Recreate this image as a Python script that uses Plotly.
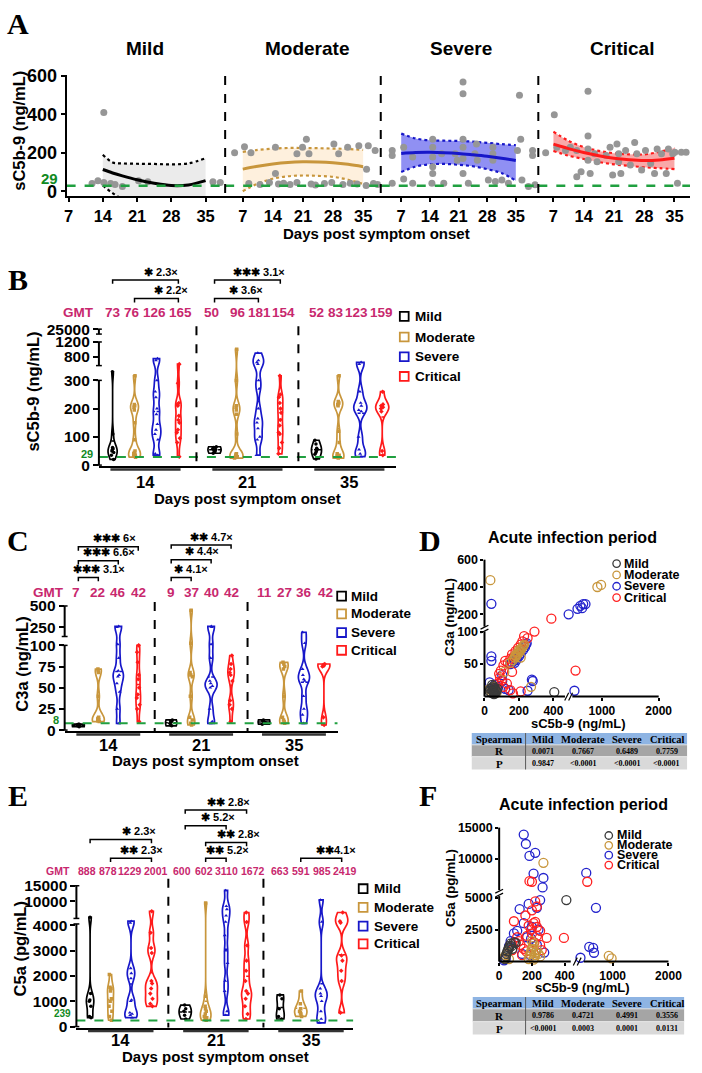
import numpy as np
import plotly.graph_objects as go

W, H = 702, 1073
SANS = "Liberation Sans, Arial, Helvetica, sans-serif"
SERIF = "Liberation Serif, Times New Roman, serif"

# ------------------------------------------------------------------ data
SERIES = ["Mild", "Moderate", "Severe", "Critical"]
DAY_LABELS = ["14", "21", "35"]
A_X_TICKS = [7, 14, 21, 28, 35]
A_THR, B_THR, C_THR, E_THR = 29, 29, 8, 239

A_mild_day = [11.8, 13.0, 14.2, 14.2, 15.6, 16.5, 18.0, 21.3, 23.2, 36.5, 38.0]
A_mild_val = [40, 55, 410, 45, 40, 35, 25, 55, 50, 50, 45]
A_mod_day = [5.1, 7.4, 8.9, 14.6, 14.6, 19.6, 20.9, 21.8, 22.4, 28.2, 29.3, 31.4, 34.0, 36.2, 35.8, 37.8,
             8.4, 11.0, 13.2, 15.3, 16.5, 18.0, 19.6, 22.9, 23.9, 26.0, 27.7, 30.3, 32.0, 33.6, 35.7, 37.4, 38.4]
A_mod_val = [200, 232, 200, 229, 93, 195, 229, 271, 195, 246, 195, 229, 237, 237, 115, 212,
             40, 35, 45, 38, 42, 35, 45, 38, 32, 40, 45, 35, 42, 38, 30, 40, 35]
A_sev_day = [4.8, 4.8, 4.8, 7.6, 7.6, 9.8, 9.8, 14.7, 14.7, 14.7, 14.7, 14.7, 14.5, 16.9, 17.4, 20.2, 20.7,
             22.1, 22.1, 22.1, 22.1, 22.1, 22.1, 23.4, 25.0, 25.4, 25.6, 28.3, 29.4, 29.4, 29.4, 30.0, 31.6,
             33.2, 35.4, 35.9, 36.2, 36.5, 38.1, 39.1, 39.1, 39.7]
A_sev_val = [42, 212, 186, 229, 64, 178, 42, 271, 229, 178, 127, 93, 42, 195, 42, 195, 161,
             568, 508, 271, 229, 170, 93, 42, 195, 246, 161, 59, 229, 195, 161, 51, 59,
             42, 212, 500, 271, 59, 25, 212, 186, 34]
A_crit_day = [5.2, 7.2, 7.8, 9.8, 10.9, 12.4, 12.4, 13.4, 15.0, 15.0, 15.0, 15.0, 15.5, 16.5, 17.1, 19.2,
              20.1, 20.7, 21.7, 22.1, 22.1, 22.6, 23.7, 24.8, 25.8, 26.3, 27.4, 28.3, 29.5, 30.4, 31.0,
              32.0, 33.1, 33.6, 34.6, 35.1, 35.7, 36.6, 37.7]
A_crit_val = [200, 398, 229, 212, 229, 212, 76, 102, 520, 288, 220, 161, 93, 195, 153, 186,
              229, 85, 246, 195, 153, 93, 212, 136, 254, 195, 110, 212, 144, 93, 220,
              195, 93, 220, 195, 203, 42, 203, 203]

A_mild_cday = [14, 16, 18, 21, 24.5, 28, 31.5, 35]
A_mild_fit = [113, 95, 80, 60, 42, 30, 33, 55]
A_mild_hi = [190, 150, 145, 143, 142, 140, 145, 172]
A_mild_lo = [30, -10, -40, -60, -70, -75, -75, -80]
A_cday = [7, 10.5, 14, 17.5, 21, 24.5, 28, 31.5, 35]
A_mod_fit = [115, 130, 142, 150, 153, 152, 148, 140, 128]
A_mod_hi = [205, 215, 222, 225, 225, 224, 222, 220, 215]
A_mod_lo = [0, 40, 65, 78, 82, 80, 75, 60, 38]
A_sev_fit = [197, 202, 203, 201, 197, 190, 182, 172, 160]
A_sev_hi = [300, 275, 265, 263, 262, 258, 252, 245, 240]
A_sev_lo = [100, 128, 140, 142, 138, 130, 115, 95, 55]
A_crit_fit = [245, 222, 202, 185, 172, 164, 160, 163, 172]
A_crit_hi = [310, 262, 230, 210, 198, 192, 192, 205, 225]
A_crit_lo = [210, 185, 168, 152, 140, 132, 125, 120, 115]

B_mild = [[20, 35, 45, 50, 55, 58, 62, 110, 450], [42, 48, 52, 55, 58, 62, 65], [22, 38, 45, 50, 55, 60, 75, 88]]
B_mod = [[28, 32, 36, 40, 45, 50, 90, 150, 195, 205, 210, 215, 380],
         [25, 28, 30, 32, 35, 38, 40, 110, 180, 195, 205, 210, 300, 1000],
         [25, 28, 32, 35, 40, 80, 120, 210, 215, 220, 225, 380]]
B_sev = [[35, 40, 90, 110, 125, 145, 180, 200, 240, 260, 300, 700, 750],
         [35, 90, 100, 130, 150, 165, 200, 270, 300, 600, 650, 700, 900],
         [30, 40, 55, 100, 190, 195, 210, 220, 260, 600, 650]]
B_crit = [[30, 80, 95, 115, 125, 150, 160, 175, 210, 215, 220, 290, 600],
          [40, 60, 80, 110, 115, 140, 160, 185, 200, 220, 240, 250, 380],
          [35, 50, 190, 200, 205, 210, 215, 260]]
B_gmt = [[73, 76, 126, 165], [50, 96, 181, 154], [52, 83, 123, 159]]
B_sig_pairs = [(0, 0, 3), (0, 1, 3), (1, 0, 3), (1, 0, 2)]
B_sig_text = ["✱ 2.3×", "✱ 2.2×", "✱✱✱ 3.1×", "✱ 3.6×"]
B_yticks = [0, 100, 200, 300, 800, 1200, 25000]

C_mild = [[4, 5, 5, 6, 6, 7, 7], [5, 6, 8, 10, 11, 12], [7, 8, 9, 10, 11, 12]]
C_mod = [[10, 11, 12, 13, 14, 15, 40, 68, 70, 72], [6, 8, 12, 15, 40, 63, 65, 68, 110, 450],
         [8, 10, 12, 15, 40, 72, 75, 78, 80]]
C_sev = [[8, 25, 45, 55, 63, 65, 70, 85, 105, 250, 260], [8, 10, 25, 50, 52, 55, 58, 85, 105, 250, 260],
         [8, 18, 25, 40, 58, 60, 65, 72, 110, 190]]
C_crit = [[10, 25, 30, 38, 42, 50, 60, 65, 80, 92, 100], [10, 25, 30, 35, 58, 65, 68, 72, 78, 88],
          [6, 15, 75, 76, 77, 78]]
C_gmt = [[7, 22, 46, 42], [9, 37, 40, 42], [11, 27, 36, 42]]
C_sig_pairs = [(0, 0, 3), (0, 0, 2), (0, 0, 1), (1, 0, 3), (1, 0, 2), (1, 0, 1)]
C_sig_text = ["✱✱✱ 6×", "✱✱✱ 6.6×", "✱✱✱ 3.1×", "✱✱ 4.7×", "✱ 4.4×", "✱ 4.1×"]
C_yticks = [0, 25, 50, 75, 100, 250, 500]

E_mild = [[350, 400, 800, 1000, 1050, 1300, 5000], [300, 450, 600, 700, 850], [300, 400, 700, 1100, 1250]]
E_mod = [[250, 400, 600, 800, 1000, 1100, 1400, 1500, 1550, 2050],
         [250, 300, 350, 400, 500, 600, 700, 800, 1200, 9500],
         [400, 500, 550, 600, 700, 900, 1400]]
E_sev = [[350, 450, 500, 550, 1000, 1050, 1900, 2100, 2300, 4300, 4500],
         [450, 600, 1400, 1800, 2500, 3000, 3600, 4400, 5500, 7500, 8500, 13500],
         [150, 300, 600, 1000, 1200, 1300, 1500, 4400, 10500]]
E_crit = [[800, 900, 1100, 1300, 1500, 1700, 1800, 2900, 3100, 3700, 6900],
          [300, 500, 800, 1100, 1300, 1400, 1800, 2200, 2600, 3200, 4400, 6500],
          [550, 1800, 2200, 2600, 2800, 4300, 4500, 6500]]
E_gmt = [[888, 878, 1229, 2001], [600, 602, 3110, 1672], [663, 591, 985, 2419]]
E_sig_pairs = [(0, 0, 3), (0, 1, 3), (1, 0, 3), (1, 0, 2), (1, 1, 3), (1, 1, 2), (2, 1, 3)]
E_sig_text = ["✱ 2.3×", "✱✱ 2.3×", "✱✱ 2.8×", "✱ 5.2×", "✱✱ 2.8×", "✱✱ 5.2×", "✱✱4.1×"]
E_yticks = [0, 1000, 2000, 3000, 4000, 10000, 15000]

D_mild_x = [30, 35, 40, 45, 48, 50, 52, 55, 58, 60, 62, 65, 70, 75, 45, 55, 405]
D_mild_y = [8, 12, 6, 10, 14, 9, 16, 7, 11, 13, 5, 10, 8, 12, 18, 4, 7]
D_mod_x = [34, 115, 270, 920, 985, 30, 40, 50, 60, 70, 150, 165, 175, 185, 190, 195, 200, 205, 210, 215,
           220, 225, 230, 180, 200, 210]
D_mod_y = [450, 38, 15, 400, 415, 12, 8, 15, 10, 6, 52, 56, 60, 62, 65, 66, 68, 70, 72, 74,
           76, 78, 80, 64, 72, 60]
D_sev_x = [40, 40, 40, 150, 160, 170, 175, 180, 185, 190, 200, 210, 225, 240, 245, 235,
           480, 570, 620, 670, 710, 650, 30, 103, 103, 120, 250, 275, 280, 516, 80, 60, 140]
D_sev_y = [277, 62, 55, 50, 53, 55, 52, 58, 56, 60, 62, 66, 72, 80, 82, 76,
           200, 240, 262, 275, 275, 245, 22, 24, 33, 12, 9, 26, 24, 9, 15, 18, 10]
D_crit_x = [388, 85, 90, 95, 110, 120, 135, 150, 160, 170, 180, 195, 210, 220, 230, 250, 290,
            160, 100, 130, 150, 210, 165, 535, 75, 110, 60]
D_crit_y = [168, 35, 30, 40, 48, 55, 52, 58, 65, 62, 70, 75, 80, 85, 93, 90, 100,
            38, 25, 20, 10, 8, 5, 40, 20, 15, 10]
D_R = ["0.0071", "0.7667", "0.6489", "0.7759"]
D_P = ["0.9847", "<0.0001", "<0.0001", "<0.0001"]

F_mild_x = [35, 40, 45, 50, 55, 60, 65, 70, 75, 80, 90, 100, 410]
F_mild_y = [200, 400, 600, 800, 950, 1100, 1250, 1400, 1200, 1000, 1500, 1450, 4800]
F_mod_x = [270, 930, 980, 30, 40, 50, 60, 180, 185, 190, 195, 200, 205, 210, 215, 220, 225, 230, 240, 250, 200, 210]
F_mod_y = [9400, 450, 250, 300, 500, 700, 200, 200, 400, 600, 800, 1000, 1200, 1400, 300, 500, 700, 900, 600,
           400, 1600, 150]
F_sev_x = [150, 163, 185, 220, 210, 270, 265, 250, 230, 180, 125, 526, 700, 580, 650, 665, 480, 150, 200, 240,
           110, 90, 170, 195, 70, 60, 40, 30, 140, 190, 275, 230]
F_sev_y = [13900, 12400, 10500, 11000, 7700, 7000, 5500, 4800, 4200, 4500, 4100, 7800, 4200, 1150, 1070, 690,
           300, 3000, 2700, 2500, 2400, 2200, 1900, 1800, 1600, 1200, 200, 100, 600, 500, 700, 1300]
F_crit_x = [185, 200, 544, 90, 160, 200, 220, 230, 290, 395, 210, 220, 180, 195, 230, 250, 200, 170, 230, 110,
            100, 130, 150, 165, 140, 250, 260, 215, 80, 120]
F_crit_y = [6500, 6400, 6400, 3150, 3600, 4000, 4700, 4300, 1850, 1850, 3000, 3100, 2800, 2500, 2700, 2400,
            2200, 2000, 2000, 1900, 1500, 1300, 1000, 800, 500, 1300, 900, 1500, 900, 1600]
F_R = ["0.9786", "0.4721", "0.4991", "0.3556"]
F_P = ["<0.0001", "0.0003", "0.0001", "0.0131"]

# ------------------------------------------------------------------ style
COLORS = ["#000000", "#C8963C", "#1717C9", "#FF1A1A"]
SCOL = ["#3a3a3a", "#C8963C", "#2222CC", "#FF2020"]
BANDS = ["rgba(215,215,215,0.5)", "rgba(252,222,180,0.45)", "rgba(70,70,235,0.6)", "rgba(245,110,110,0.6)"]
MARKERS = ["circle", "square", "triangle-up", "diamond"]
GMT_COLOR = "#C8286E"
GREEN = "#20A040"
GREEN_TXT = "#118A22"
GROUP_OFF = [0.0, 4.65, 9.3]

fig = go.Figure()
shapes, anns, layout = [], [], {}


def PX(x):
    return x / W


def PY(y):
    return 1 - y / H


def txt(x, y, s, size=14, color="black", xa="center", ya="middle", family=SANS, angle=0, bold=True):
    anns.append(dict(xref="paper", yref="paper", x=PX(x), y=PY(y), text=s, showarrow=False,
                     xanchor=xa, yanchor=ya, textangle=angle, borderpad=0,
                     font=dict(family=family, size=size, color=color, weight="bold" if bold else "normal")))


def seg(x0, y0, x1, y1, color="black", width=2, dash="solid"):
    shapes.append(dict(type="line", xref="paper", yref="paper", x0=PX(x0), y0=PY(y0), x1=PX(x1), y1=PY(y1),
                       line=dict(color=color, width=width, dash=dash)))


def rect(x0, y0, x1, y1, fill, line_color=None, lw=0):
    shapes.append(dict(type="rect", xref="paper", yref="paper", x0=PX(x0), x1=PX(x1), y0=PY(y1), y1=PY(y0),
                       fillcolor=fill, line=dict(color=line_color or fill, width=lw)))


def tfont(size):
    return dict(family=SANS, size=size, color="black", weight="bold")


def base_axis(**kw):
    d = dict(showgrid=False, zeroline=False, showline=True, linecolor="black", linewidth=2,
             ticks="outside", ticklen=5, tickwidth=2, tickcolor="black", tickfont=tfont(15), fixedrange=True)
    d.update(kw)
    return d


# ------------------------------------------------------------------ panel A
A_TOP, A_BOT = 67, 190
A_YR = [-25.6, 605]
A_SEG = [(65, 227, 6.6, 39.0), (227, 386, 2.9, 39.1), (386, 547, 2.0, 40.5), (547, 702, 3.5, 38.6)]
A_TITLE_X = [145, 311, 468, 633]
layout["yaxis"] = base_axis(domain=[PY(A_BOT), PY(A_TOP)], range=A_YR, anchor="x",
                            tickvals=[0, 200, 400, 600], tickfont=tfont(18), ticklen=4)
A_pts = [(A_mild_day, A_mild_val), (A_mod_day, A_mod_val), (A_sev_day, A_sev_val), (A_crit_day, A_crit_val)]
A_cur = [(A_mild_cday, A_mild_fit, A_mild_hi, A_mild_lo), (A_cday, A_mod_fit, A_mod_hi, A_mod_lo),
         (A_cday, A_sev_fit, A_sev_hi, A_sev_lo), (A_cday, A_crit_fit, A_crit_hi, A_crit_lo)]
for i, (p0, p1, r0, r1) in enumerate(A_SEG):
    key = "xaxis" if i == 0 else f"xaxis{i + 1}"
    xa = "x" if i == 0 else f"x{i + 1}"
    layout[key] = base_axis(domain=[PX(p0), PX(p1)], range=[r0, r1], anchor="y", tickvals=A_X_TICKS,
                            ticklen=4, tickfont=tfont(16.5))
    cd, fit, hi, lo = A_cur[i]
    dl = dict(color=COLORS[i], width=2.2, dash="dot", shape="spline")
    fig.add_trace(go.Scatter(x=cd, y=lo, mode="lines", line=dl, xaxis=xa, yaxis="y", hoverinfo="skip"))
    fig.add_trace(go.Scatter(x=cd, y=hi, mode="lines", line=dl, fill="tonexty", fillcolor=BANDS[i],
                             xaxis=xa, yaxis="y", hoverinfo="skip"))
    fig.add_trace(go.Scatter(x=A_pts[i][0], y=A_pts[i][1], mode="markers",
                             marker=dict(color="#969696", size=7), xaxis=xa, yaxis="y"))
    fig.add_trace(go.Scatter(x=cd, y=fit, mode="lines", line=dict(color=COLORS[i], width=3, shape="spline"),
                             xaxis=xa, yaxis="y"))
    fig.add_trace(go.Scatter(x=[r0, r1], y=[A_THR, A_THR], mode="lines",
                             line=dict(color=GREEN, width=2.5, dash="dash"), xaxis=xa, yaxis="y"))
    txt(A_TITLE_X[i], 40, SERIES[i], size=19)
    if i > 0:
        seg(p0, A_TOP + 1, p0, A_BOT, width=2, dash="dash")
a_thr_px = A_BOT - (A_THR - A_YR[0]) * (A_BOT - A_TOP) / (A_YR[1] - A_YR[0])
txt(57, a_thr_px - 7, str(A_THR), size=15, color=GREEN_TXT, xa="right")
txt(17, 124, "sC5b-9 (ng/mL)", size=16.5, angle=-90)
txt(382, 228, "Days post symptom onset", size=15)


# ------------------------------------------------------------------ violin panels
def vpanel(n, xc, yc, data, gmt, pairs, sig_text, yticks, segs, thr, lay):
    xa, ya = f"x{n}", f"y{n}"

    def ymap(v):
        return yc["base"] - np.interp(np.asarray(v, float), yc["vals"], yc["pix"])

    def ypix(v):
        return float(np.interp(v, yc["vals"], yc["pix"]))

    def xpix(p):
        return xc["origin"] + p * xc["unit"]

    xr = [(xc["dom"][0] - xc["origin"]) / xc["unit"], (xc["dom"][1] - xc["origin"]) / xc["unit"]]
    layout[f"xaxis{n}"] = base_axis(domain=[PX(xc["dom"][0]), PX(xc["dom"][1])], range=xr, anchor=ya,
                                    ticks="", showticklabels=False)
    layout[f"yaxis{n}"] = base_axis(domain=[PY(yc["base"]), PY(yc["top"])], range=[0, yc["base"] - yc["top"]],
                                    anchor=xa, showline=False, tickvals=[float(v) for v in ymap(yticks)],
                                    ticktext=[str(t) for t in yticks], tickfont=tfont(15.5))
    fig.add_trace(go.Scatter(x=xr, y=[float(ymap(thr))] * 2, mode="lines", xaxis=xa, yaxis=ya,
                             line=dict(color=GREEN, width=2, dash="dash")))
    for s in range(4):
        xs, ys = [], []
        for g in range(3):
            xs += [GROUP_OFF[g] + s] * len(data[s][g])
            ys += [float(v) for v in ymap(data[s][g])]
        fig.add_trace(go.Violin(x=xs, y=ys, xaxis=xa, yaxis=ya, width=0.6, spanmode="hard", points="all",
                                pointpos=0, jitter=0.3, scalemode="width", bandwidth=lay["bw"],
                                line=dict(color=COLORS[s], width=1.7), fillcolor="rgba(255,255,255,0)",
                                marker=dict(symbol=MARKERS[s], size=3.5, color=COLORS[s]),
                                meanline=dict(visible=True, color=COLORS[s], width=1.5), hoverinfo="skip"))
    x_ax = xc["dom"][0]
    for a, b in segs:
        seg(x_ax, ypix(a), x_ax, ypix(b), width=2)
        seg(x_ax - 3, ypix(b), x_ax + 3, ypix(b), width=1.5)
        seg(x_ax - 3, ypix(a), x_ax + 3, ypix(a), width=1.5)
    txt(x_ax - 5, ypix(thr) - lay["thr_dy"], str(thr), size=lay["thr_size"], color=GREEN_TXT, xa="right")
    for g in range(2):
        p = (GROUP_OFF[g] + 3 + GROUP_OFF[g + 1]) / 2
        seg(xpix(p), lay["div_top"], xpix(p), yc["base"], width=2, dash="dash")
    for g in range(3):
        seg(xpix(GROUP_OFF[g] - 0.1), yc["base"] + 3.5, xpix(GROUP_OFF[g] + 3.1), yc["base"] + 3.5,
            color="#333333", width=2.5)
        txt(xpix(GROUP_OFF[g] + 1.5), lay["day_y"], DAY_LABELS[g], size=16.5)
    txt(lay["xt"][0], lay["xt"][1], "Days post symptom onset", size=15)
    txt(lay["yt"][0], lay["yt"][1], lay["ytitle"], size=16.5, angle=-90)
    txt(lay["gmt_x"], lay["gmt_y"], "GMT", size=lay["gmt_size"], color=GMT_COLOR)
    for g in range(3):
        for s in range(4):
            txt(lay["gmt_px"][g][s], lay["gmt_y"], str(gmt[g][s]), size=lay["gmt_size"], color=GMT_COLOR)
    for (g, s0, s1), label, by, tx in zip(pairs, sig_text, lay["sig_y"], lay["sig_tx"]):
        xa_px, xb_px = xpix(GROUP_OFF[g] + s0), xpix(GROUP_OFF[g] + s1)
        shapes.append(dict(type="path", xref="paper", yref="paper",
                           path=f"M {PX(xa_px)},{PY(by + 4)} L {PX(xa_px)},{PY(by)} L {PX(xb_px)},{PY(by)} "
                                f"L {PX(xb_px)},{PY(by + 4)}",
                           line=dict(color="black", width=1.5)))
        txt(xpix(tx), by - 8.5, label, size=11)
    sx, rows, tx0, lsz = lay["leg"]
    for s in range(4):
        shapes.append(dict(type="rect", xref="paper", yref="paper", x0=PX(sx - 4.5), x1=PX(sx + 4.5),
                           y0=PY(rows[s] + 4.5), y1=PY(rows[s] - 4.5),
                           line=dict(color=COLORS[s], width=1.8), fillcolor="white"))
        txt(tx0, rows[s], SERIES[s], size=lsz, xa="left")


vpanel(5, dict(origin=112, unit=22.4, dom=(98, 402)),
       dict(base=464, top=320, vals=[0, 300, 560, 1200, 20000, 25000], pix=[463, 377, 362, 338, 330, 325]),
       [B_mild, B_mod, B_sev, B_crit], B_gmt, B_sig_pairs, B_sig_text, B_yticks,
       [(0, 300), (560, 1200), (20000, 25000)], B_THR,
       dict(thr_size=11, thr_dy=3, div_top=322, day_y=480, xt=(250, 497), yt=(31, 388), ytitle="sC5b-9 (ng/mL)",
            gmt_x=77, gmt_y=308, gmt_size=13.5,
            gmt_px=[[112, 132, 155, 181], [213, 240, 262, 287], [320, 340, 361, 387]],
            sig_y=[275, 294, 275, 294], sig_tx=[2.23, 2.66, 6.7, 6.07], bw=6,
            leg=(410, [312, 333, 353, 373], 420, 13.5)))

vpanel(6, dict(origin=77, unit=20.4, dom=(63, 342)),
       dict(base=733, top=600, vals=[0, 100, 140, 500], pix=[732, 646, 637, 606]),
       [C_mild, C_mod, C_sev, C_crit], C_gmt, C_sig_pairs, C_sig_text, C_yticks,
       [(0, 100), (140, 500)], C_THR,
       dict(thr_size=11, thr_dy=3, div_top=602, day_y=747, xt=(207, 763), yt=(20, 665), ytitle="C3a (ng/mL)",
            gmt_x=47, gmt_y=592, gmt_size=13.5,
            gmt_px=[[75, 97, 118, 138], [172, 193, 213, 233], [267, 288, 308, 330]],
            sig_y=[546, 560, 577, 544, 559, 577], sig_tx=[1.81, 1.52, 1.03, 6.67, 6.18, 5.64], bw=6,
            leg=(346, [596, 614, 633, 651], 355, 13.5)))

vpanel(8, dict(origin=89, unit=20.9, dom=(75, 358)),
       dict(base=1034, top=885, vals=[0, 4000, 5000, 15000], pix=[1033, 930, 922, 890]),
       [E_mild, E_mod, E_sev, E_crit], E_gmt, E_sig_pairs, E_sig_text, E_yticks,
       [(0, 4150), (4850, 15000)], E_THR,
       dict(thr_size=10, thr_dy=7, div_top=883, day_y=1047, xt=(217, 1063), yt=(17, 954), ytitle="C5a (pg/mL)",
            gmt_x=56, gmt_y=875, gmt_size=10.5,
            gmt_px=[[86, 107.5, 130, 156], [182.5, 205, 228.5, 255], [283, 304.5, 325.5, 349]],
            sig_y=[843, 862, 813, 829, 846, 862, 862], sig_tx=[2.39, 2.49, 6.79, 6.27, 7.27, 6.7, 12.0], bw=6,
            leg=(368, [893, 912, 931, 949], 378, 13.5)))


# ------------------------------------------------------------------ scatter panels
TABLE_COL_X = [507, 552, 593, 638, 678]


def spanel(n, xc, yc, X, Y, xticks, yticks, xsegs, ysegs, lay, R, P):
    xa, ya = f"x{n}", f"y{n}"

    def xmap(v):
        return np.interp(np.asarray(v, float), xc["vals"], xc["pix"]) - xc["dom"][0]

    def ymap(v):
        return yc["base"] - np.interp(np.asarray(v, float), yc["vals"], yc["pix"])

    def xpix(v):
        return float(np.interp(v, xc["vals"], xc["pix"]))

    def ypix(v):
        return float(np.interp(v, yc["vals"], yc["pix"]))

    layout[f"xaxis{n}"] = base_axis(domain=[PX(xc["dom"][0]), PX(xc["dom"][1])],
                                    range=[0, xc["dom"][1] - xc["dom"][0]], anchor=ya, showline=False,
                                    tickvals=[float(v) for v in xmap(xticks)], ticktext=[str(t) for t in xticks],
                                    tickfont=tfont(12), ticklen=3)
    layout[f"yaxis{n}"] = base_axis(domain=[PY(yc["base"]), PY(yc["top"])], range=[0, yc["base"] - yc["top"]],
                                    anchor=xa, showline=False, ticklen=3,
                                    tickvals=[float(v) for v in ymap(yticks)], ticktext=[str(t) for t in yticks],
                                    tickfont=tfont(12.5))
    for s in [2, 3, 1, 0]:
        fig.add_trace(go.Scatter(x=[float(v) for v in xmap(X[s])], y=[float(v) for v in ymap(Y[s])],
                                 mode="markers", xaxis=xa, yaxis=ya, cliponaxis=False,
                                 marker=dict(symbol="circle-open", size=9, color=SCOL[s], line=dict(width=1.3))))
    for a, b in xsegs:
        seg(xpix(a), yc["base"], xpix(b), yc["base"], width=2)
    for a, b in ysegs:
        seg(xc["dom"][0], ypix(a), xc["dom"][0], ypix(b), width=2)
    gx = (xpix(xsegs[0][1]) + xpix(xsegs[1][0])) / 2
    for d in (-2, 2):
        seg(gx + d - 2, yc["base"] + 4, gx + d + 2, yc["base"] - 4, width=1.2)
    gy = (ypix(ysegs[0][1]) + ypix(ysegs[1][0])) / 2
    for d in (-2, 2):
        seg(xc["dom"][0] - 4, gy + d + 2, xc["dom"][0] + 4, gy + d - 2, width=1.2)
    txt(lay["title"][0], lay["title"][1], "Acute infection period", size=16)
    txt(lay["xt"][0], lay["xt"][1], "sC5b-9 (ng/mL)", size=13)
    txt(lay["yt"][0], lay["yt"][1], lay["ytitle"], size=13.5, angle=-90)
    cx, rows, tx0 = lay["leg"]
    for s in range(4):
        shapes.append(dict(type="circle", xref="paper", yref="paper", x0=PX(cx - 3.8), x1=PX(cx + 3.8),
                           y0=PY(rows[s] + 3.8), y1=PY(rows[s] - 3.8), line=dict(color=SCOL[s], width=1.3)))
        txt(tx0, rows[s], SERIES[s], size=12.5, xa="left")
    (tx0_, tx1_), ty = lay["table"]
    rect(tx0_, ty[0], tx1_, ty[1], "#8EB4E3")
    rect(tx0_, ty[1], tx1_, ty[2], "#A5A5A5")
    rect(tx0_, ty[2], tx1_, ty[3], "#D9D9D9")
    seg(tx0_, ty[1], tx1_, ty[1], color="#E8E8E8", width=0.8)
    seg(tx0_, ty[2], tx1_, ty[2], color="#F2F2F2", width=0.8)
    seg(534, ty[0], 534, ty[3], color="#5A5A5A", width=1)
    for j, h in enumerate(["Spearman"] + SERIES):
        txt(TABLE_COL_X[j], (ty[0] + ty[1]) / 2 + 0.5, h, size=10.5, family=SERIF)
    for r, (lab, vals) in enumerate([("R", R), ("P", P)]):
        yc_ = (ty[1 + r] + ty[2 + r]) / 2 + 0.5
        txt(TABLE_COL_X[0], yc_, lab, size=11, family=SERIF)
        for j, v in enumerate(vals):
            txt(TABLE_COL_X[j + 1], yc_, v.replace("<", "&lt;"), size=8, family=SERIF)


spanel(7, dict(dom=(492, 672), vals=[0, 460, 500, 2000], pix=[492, 573, 583, 670]),
       dict(base=698, top=555, vals=[0, 100, 110, 600], pix=[698, 632, 627, 559]),
       [D_mild_x, D_mod_x, D_sev_x, D_crit_x], [D_mild_y, D_mod_y, D_sev_y, D_crit_y],
       [0, 200, 400, 1000, 2000], [50, 100, 200, 400, 600], [(0, 465), (495, 2000)], [(0, 100), (110, 600)],
       dict(title=(582, 537), xt=(588, 725), yt=(457, 617), ytitle="C3a (ng/mL)",
            leg=(627, [563, 574.5, 586, 597.5], 634), table=((479, 699), (735, 747, 759, 772))), D_R, D_P)

spanel(9, dict(dom=(507, 682), vals=[0, 430, 500, 2000], pix=[507, 579, 594.5, 680]),
       dict(base=967, top=825, vals=[0, 5000, 5300, 15000], pix=[967, 902, 893, 831]),
       [F_mild_x, F_mod_x, F_sev_x, F_crit_x], [F_mild_y, F_mod_y, F_sev_y, F_crit_y],
       [0, 200, 400, 1000, 2000], [2500, 5000, 10000, 15000], [(0, 435), (495, 2000)], [(0, 5050), (5250, 15000)],
       dict(title=(593, 808), xt=(592, 993), yt=(457, 892), ytitle="C5a (pg/mL)",
            leg=(619, [839, 849, 859, 869], 626), table=((480, 696), (1003, 1015, 1028, 1041))), F_R, F_P)

for letter, (x, y) in zip("ABCDEF", [(15, 15), (15, 275), (15, 540), (436, 540), (15, 798), (434, 798)]):
    txt(x, y, letter, size=30, family=SERIF)

fig.update_layout(width=W, height=H, margin=dict(l=0, r=0, t=0, b=0), autosize=False,
                  paper_bgcolor="white", plot_bgcolor="white", showlegend=False,
                  violinmode="overlay", violingap=0, shapes=shapes, annotations=anns, **layout)
fig.write_html("out.html")
